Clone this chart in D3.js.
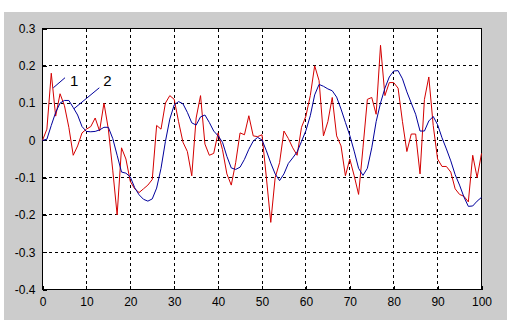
<!DOCTYPE html>
<html>
<head>
<meta charset="utf-8">
<script src="https://d3js.org/d3.v7.min.js"></script>
<style>
  body { margin: 0; background: #fff; }
  svg { display: block; font-family: "Liberation Sans", Arial, sans-serif; }
</style>
</head>
<body>
<div id="chart"></div>
<script>
// signal 1 (red, raw) and signal 2 (blue, smoothed), sampled at t = 0..100
const red = [
  0, 0.03, 0.18, 0.065, 0.125, 0.093, 0.035, -0.04, -0.015, 0.02,
  0.03, 0.037, 0.06, 0.025, 0.1, 0.03, -0.08, -0.2, -0.02, -0.05,
  -0.11, -0.13, -0.14, -0.13, -0.12, -0.105, 0.04, 0.03, 0.1, 0.12,
  0.11, 0.05, -0.005, -0.03, -0.095, 0.06, 0.12, -0.01, -0.04, -0.035,
  0.02, -0.025, -0.09, -0.12, -0.06, 0.02, 0.015, 0.066, 0.012, 0.01,
  0.015, -0.1, -0.22, -0.1, -0.06, 0.025, 0.005, -0.02, -0.04, 0.035,
  0.065, 0.12, 0.2, 0.16, 0.012, 0.05, 0.115, 0.012, -0.015, -0.095,
  -0.05, -0.095, -0.145, -0.02, 0.11, 0.115, 0.07, 0.255, 0.12, 0.155,
  0.155, 0.14, 0.05, -0.03, 0.017, 0.017, -0.09, 0.11, 0.17, 0.04,
  -0.05, -0.07, -0.07, -0.085, -0.13, -0.145, -0.15, -0.165, -0.04, -0.1,
  -0.035
];
const blue = [
  0, 0.003, 0.04, 0.075, 0.1, 0.107, 0.107, 0.088, 0.068, 0.037,
  0.024, 0.023, 0.024, 0.028, 0.035, 0.035, 0.005, -0.04, -0.085, -0.088,
  -0.098, -0.127, -0.146, -0.158, -0.163, -0.157, -0.128, -0.075, -0.003, 0.057,
  0.095, 0.104, 0.098, 0.075, 0.047, 0.041, 0.063, 0.068, 0.048, 0.025,
  0.012, -0.005, -0.043, -0.074, -0.078, -0.072, -0.051, -0.024, -0.002, 0.008,
  0.001, -0.028, -0.061, -0.09, -0.108, -0.09, -0.062, -0.047, -0.031, -0.003,
  0.026, 0.066, 0.122, 0.15, 0.145, 0.138, 0.133, 0.116, 0.084, 0.048,
  0.013, -0.029, -0.075, -0.094, -0.075, -0.02, 0.05, 0.1, 0.14, 0.17,
  0.186, 0.187, 0.165, 0.13, 0.1, 0.07, 0.025, 0.025, 0.052, 0.064,
  0.042, 0.007, -0.023, -0.055, -0.092, -0.12, -0.152, -0.177, -0.176, -0.163,
  -0.153
];
const xTicks = [0, 10, 20, 30, 40, 50, 60, 70, 80, 90, 100];
const yTicks = [0.3, 0.2, 0.1, 0, -0.1, -0.2, -0.3, -0.4];
// annotation: label, leader line start/end, text anchor (data units)
const notes = [
  {label: "1", from: [2.46, 0.141], to: [5.13, 0.168], at: [6.26, 0.147]},
  {label: "2", from: [7.18, 0.085], to: [12.94, 0.141], at: [13.85, 0.147]}
];

const W = 511, H = 326;
const svg = d3.select("#chart").append("svg")
    .attr("width", W)
    .attr("height", H);

// grey figure background
svg.append("rect")
    .attr("x", 4).attr("y", 12)
    .attr("width", 503).attr("height", 308)
    .attr("fill", "#cccccc");

const x = d3.scaleLinear().domain([0, 100]).range([42.5, 481.5]);
const y = d3.scaleLinear().domain([-0.4, 0.3]).range([289.5, 28.5]);

svg.append("rect")
    .attr("x", x(0)).attr("y", y(0.3))
    .attr("width", x(100) - x(0)).attr("height", y(-0.4) - y(0.3))
    .attr("fill", "#fff");

// dashed grid
const grid = svg.append("g")
    .attr("stroke", "#000")
    .attr("stroke-dasharray", "3,3")
    .attr("shape-rendering", "crispEdges");
grid.selectAll("line.gx")
    .data(xTicks.slice(1, -1))
    .enter().append("line")
    .attr("x1", d => x(d)).attr("x2", d => x(d))
    .attr("y1", y(0.3)).attr("y2", y(-0.4));
grid.selectAll("line.gy")
    .data(yTicks.slice(1, -1))
    .enter().append("line")
    .attr("x1", x(0)).attr("x2", x(100))
    .attr("y1", d => y(d)).attr("y2", d => y(d));

// axes (ticks inside, like matlab)
const xAxis = d3.axisBottom(x).tickValues(xTicks).tickSize(-4).tickPadding(8)
    .tickFormat(d3.format("d"));
const yAxis = d3.axisLeft(y).tickValues(yTicks).tickSize(-4).tickPadding(7)
    .tickFormat(d => d3.format(".1f")(d).replace("0.0", "0").replace("−", "-"));

const gx = svg.append("g")
    .attr("transform", `translate(0,${y(-0.4)})`)
    .call(xAxis);
const gy = svg.append("g")
    .attr("transform", `translate(${x(0)},0)`)
    .call(yAxis);
[gx, gy].forEach(g => {
  g.select(".domain").remove();
  g.selectAll("line").attr("stroke", "#000").attr("shape-rendering", "crispEdges");
  g.selectAll("text").attr("fill", "#000")
      .style("font-size", "12px")
      .style("font-family", "'Liberation Sans', Arial, sans-serif");
});

// box
svg.append("rect")
    .attr("x", x(0)).attr("y", y(0.3))
    .attr("width", x(100) - x(0)).attr("height", y(-0.4) - y(0.3))
    .attr("fill", "none")
    .attr("stroke", "#000")
    .attr("shape-rendering", "crispEdges");

const line = d3.line()
    .x((d, i) => x(i))
    .y(d => y(d));

svg.append("path")
    .datum(red)
    .attr("d", line)
    .attr("fill", "none")
    .attr("stroke", "#d40000")
    .attr("stroke-width", 1);

svg.append("path")
    .datum(blue)
    .attr("d", line)
    .attr("fill", "none")
    .attr("stroke", "#00009c")
    .attr("stroke-width", 1);

// labels 1 and 2 with leader lines
const ann = svg.append("g");
ann.selectAll("line")
    .data(notes)
    .enter().append("line")
    .attr("x1", d => x(d.from[0])).attr("y1", d => y(d.from[1]))
    .attr("x2", d => x(d.to[0])).attr("y2", d => y(d.to[1]))
    .attr("stroke", "#00009c");
ann.selectAll("text")
    .data(notes)
    .enter().append("text")
    .attr("x", d => x(d.at[0])).attr("y", d => y(d.at[1]))
    .style("font-size", "15px")
    .attr("fill", "#000")
    .text(d => d.label);
</script>
</body>
</html>
